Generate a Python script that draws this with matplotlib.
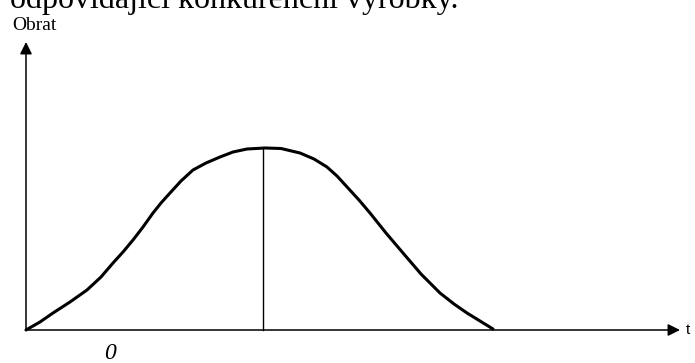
import matplotlib
matplotlib.use("Agg")
import matplotlib.pyplot as plt

# Data (t, obrat)
t_values = [0, 14, 27, 44, 61, 75, 87, 97, 107, 117, 127, 135, 144, 155, 167, 180, 194, 207, 221,
            239, 255, 274, 288, 301, 311, 322, 333, 344, 360, 377, 395, 414, 428, 441, 454, 467]
obrat_values = [0, 8, 17, 28, 40, 53, 67, 78, 90, 103, 117, 127, 137, 149, 160, 167, 173, 178, 181,
                182, 181.5, 177, 171, 163, 154, 142, 130, 117, 97, 77, 56, 37, 26, 17, 9, 1]
peak_t = 237
peak_obrat = 182
x_axis_end = 654
y_axis_end = 288

title_text = "odpovídající konkurenční výrobky."
y_label = "Obrat"
x_label = "t"
origin_label = "0"

fig = plt.figure(figsize=(6.95, 3.63), dpi=100)
ax = fig.add_axes([0, 0, 1, 1])
ax.set_xlim(-26, 669)
ax.set_ylim(-33, 330)
ax.axis("off")

ax.plot(t_values, obrat_values, color="black", lw=2.2, solid_capstyle="round",
        solid_joinstyle="round")
ax.plot([peak_t, peak_t], [0, peak_obrat], color="black", lw=1.0)

ax.annotate("", xy=(x_axis_end, 0), xytext=(0, 0),
            arrowprops=dict(arrowstyle="-|>", color="black", lw=1.1,
                            mutation_scale=18, shrinkA=0, shrinkB=0))
ax.annotate("", xy=(0, y_axis_end), xytext=(0, 0),
            arrowprops=dict(arrowstyle="-|>", color="black", lw=1.1,
                            mutation_scale=18, shrinkA=0, shrinkB=0))

serif = ["Liberation Serif", "DejaVu Serif"]
ax.text(-16, 322, title_text, fontsize=23, family=serif, ha="left", va="baseline")
ax.text(-14, 300, y_label, fontsize=14, family=serif, ha="left", va="baseline")
ax.text(660, 0, x_label, fontsize=11, family=["Liberation Sans", "DejaVu Sans"], ha="left", va="center")
ax.text(84, -29, origin_label, fontsize=17, family=serif, style="italic", ha="center", va="baseline")

fig.savefig("out.png", dpi=100)
